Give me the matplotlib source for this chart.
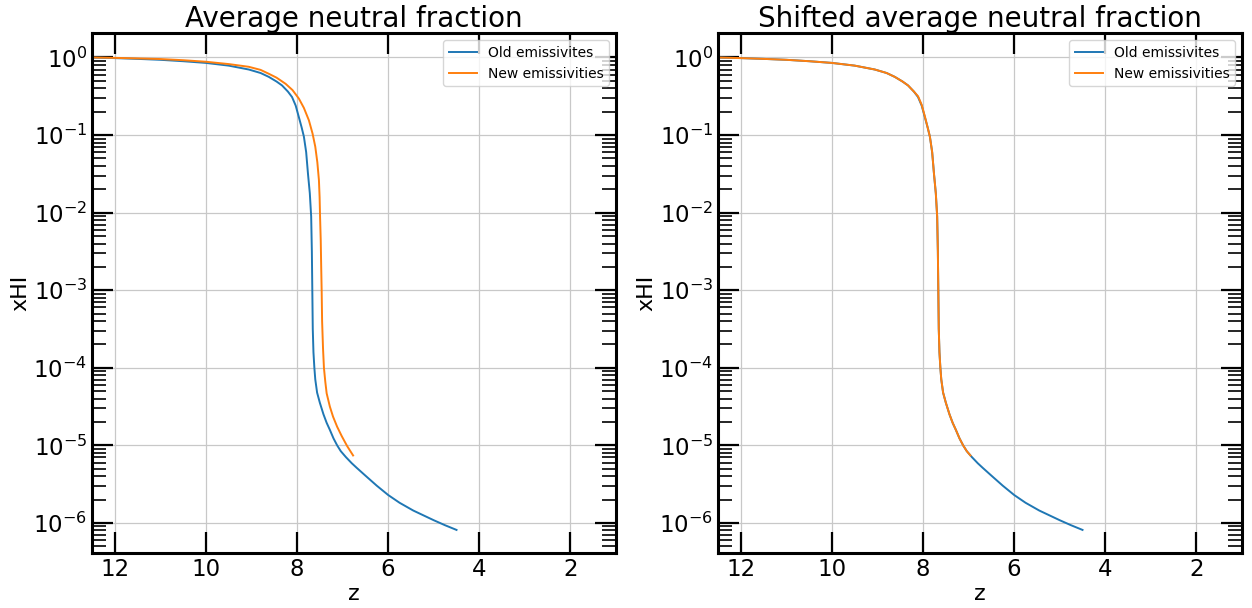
import numpy as np
import matplotlib
matplotlib.use("Agg")
from matplotlib import pyplot as plt
from matplotlib.ticker import LogLocator, NullFormatter


# data (z, log10 xHI)

old_z = [12.5, 12.0, 11.5, 11.0, 10.5, 10.0, 9.5, 9.06, 8.8, 8.62, 8.45, 8.33,
         8.2, 8.11, 8.03, 7.96, 7.90, 7.85, 7.80, 7.76, 7.72, 7.69, 7.675,
         7.665, 7.655, 7.64, 7.62, 7.60, 7.56, 7.50, 7.42, 7.35, 7.28, 7.2,
         7.12, 7.04, 6.93, 6.8, 6.69, 6.5, 6.25, 6.0, 5.75, 5.45, 5.0, 4.75, 4.5]
old_logx = [0.0, -0.008, -0.018, -0.03, -0.048, -0.07, -0.105, -0.155, -0.2, -0.25,
            -0.31, -0.36, -0.44, -0.51, -0.62, -0.77, -0.9, -1.02, -1.22, -1.5,
            -1.75, -2.05, -2.5, -3.0, -3.5, -3.8, -4.0, -4.15, -4.32, -4.45, -4.6,
            -4.71, -4.8, -4.91, -5.0, -5.075, -5.15, -5.23, -5.29, -5.39, -5.52,
            -5.64, -5.74, -5.84, -5.965, -6.03, -6.09]

new_z = [12.5, 12.0, 11.5, 11.0, 10.5, 10.0, 9.5, 9.06, 8.8, 8.62, 8.45, 8.25,
         8.1, 7.96, 7.85, 7.74, 7.66, 7.6, 7.555, 7.52, 7.505, 7.495, 7.48,
         7.47, 7.46, 7.45, 7.43, 7.41, 7.38, 7.35, 7.28, 7.21, 7.12, 7.02,
         6.9, 6.77]
new_logx = [0.0, -0.005, -0.012, -0.02, -0.035, -0.055, -0.085, -0.12, -0.16, -0.21,
            -0.26, -0.34, -0.42, -0.53, -0.65, -0.81, -0.98, -1.15, -1.35, -1.58,
            -1.8, -2.05, -2.36, -2.7, -3.0, -3.4, -3.75, -4.0, -4.18, -4.33, -4.5,
            -4.63, -4.76, -4.88, -5.01, -5.13]

# shifted new emissivities
shifted_z = [12.5, 12.0, 11.5, 11.0, 10.5, 10.0, 9.5, 9.06, 8.8, 8.62, 8.45, 8.33,
             8.2, 8.11, 8.03, 7.96, 7.90, 7.85, 7.80, 7.76, 7.72, 7.69, 7.675,
             7.665, 7.655, 7.64, 7.62, 7.60, 7.56, 7.50, 7.42, 7.35, 7.28, 7.2,
             7.12, 7.04, 6.96]
shifted_logx = [0.0, -0.008, -0.018, -0.03, -0.048, -0.07, -0.105, -0.155, -0.2, -0.25,
                -0.31, -0.36, -0.44, -0.50, -0.61, -0.76, -0.9, -1.02, -1.22, -1.5,
                -1.75, -2.05, -2.5, -3.0, -3.5, -3.8, -4.0, -4.15, -4.32, -4.45, -4.6,
                -4.71, -4.8, -4.91, -5.0, -5.075, -5.13]

titles = ["Average neutral fraction", "Shifted average neutral fraction"]


def style_axis(ax):
    ax.set_yscale("log")
    ax.set_xlim(12.5, 1.0)
    ax.set_ylim(4.1e-7, 2.06)
    ax.set_xticks([12, 10, 8, 6, 4, 2])
    ax.set_yticks([1e-6, 1e-5, 1e-4, 1e-3, 1e-2, 1e-1, 1e0])
    ax.yaxis.set_minor_locator(LogLocator(base=10, subs=np.arange(2, 10), numticks=20))
    ax.yaxis.set_minor_formatter(NullFormatter())
    ax.tick_params(which="both", direction="in", top=True, right=True)
    ax.tick_params(which="major", length=15, width=1.6, labelsize=16.5)
    ax.tick_params(which="minor", length=10, width=1.2)
    for s in ax.spines.values():
        s.set_linewidth(2.2)
    ax.grid(True, which="major", color="#c8c8c8", linewidth=0.9)
    ax.set_xlabel("z", fontsize=16, labelpad=2)
    ax.set_ylabel("xHI", fontsize=16, labelpad=2)


fig = plt.figure(figsize=(12.52, 6.08), dpi=100)
ax1 = fig.add_axes([0.0735, 0.0905, 0.4185, 0.855])
ax2 = fig.add_axes([0.5735, 0.0905, 0.4185, 0.855])

ax1.plot(old_z, 10 ** np.array(old_logx), color="C0", lw=1.4, label="Old emissivites")
ax1.plot(new_z, 10 ** np.array(new_logx), color="C1", lw=1.4, label="New emissivities")

ax2.plot(old_z, 10 ** np.array(old_logx), color="C0", lw=1.4, label="Old emissivites")
ax2.plot(shifted_z, 10 ** np.array(shifted_logx), color="C1", lw=1.4, label="New emissivities")

for ax, t in zip([ax1, ax2], titles):
    style_axis(ax)
    ax.set_title(t, fontsize=20, pad=2)
    ax.legend(loc="upper right", fontsize=10)

fig.savefig("out.png", dpi=100)
